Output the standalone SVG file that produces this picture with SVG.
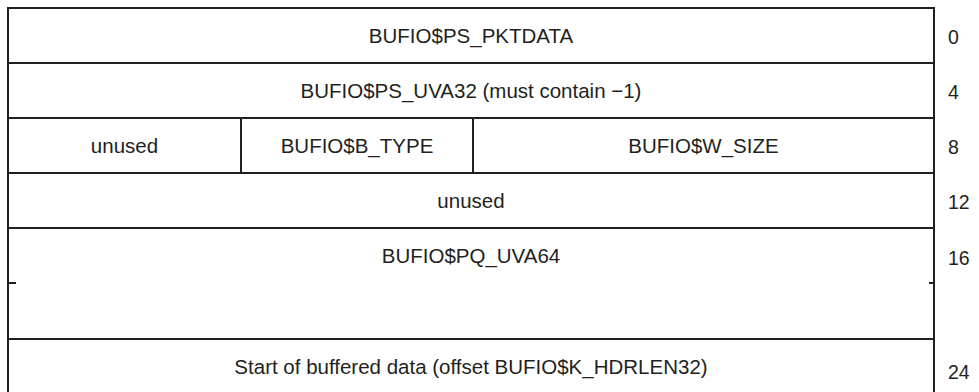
<svg xmlns="http://www.w3.org/2000/svg" width="979" height="392" viewBox="0 0 979 392">
<style>
.cell{fill:#fff;stroke:#231f20;stroke-width:2}
.ln{fill:none;stroke:#231f20;stroke-width:2}
.t{font-family:"Liberation Sans",Arial,sans-serif;font-size:20.5px;fill:#231f20;text-anchor:middle}
.n{font-family:"Liberation Sans",Arial,sans-serif;font-size:19.5px;fill:#231f20}
</style>
<rect width="979" height="392" fill="#fff"/>
<g id="pktdata">
<rect class="cell" x="8" y="8" width="926" height="55"/>
<text class="t" x="471" y="43">BUFIO$PS_PKTDATA</text>
</g>
<g id="uva32">
<rect class="cell" x="8" y="63" width="926" height="55"/>
<text class="t" x="471" y="98">BUFIO$PS_UVA32 (must contain −1)</text>
</g>
<g id="unused1">
<rect class="cell" x="8" y="118" width="233" height="55"/>
<text class="t" x="124.5" y="153">unused</text>
</g>
<g id="btype">
<rect class="cell" x="241" y="118" width="232" height="55"/>
<text class="t" x="357" y="153">BUFIO$B_TYPE</text>
</g>
<g id="wsize">
<rect class="cell" x="473" y="118" width="461" height="55"/>
<text class="t" x="703.5" y="153">BUFIO$W_SIZE</text>
</g>
<g id="unused2">
<rect class="cell" x="8" y="173" width="926" height="55"/>
<text class="t" x="471" y="208">unused</text>
</g>
<g id="uva64">
<rect class="cell" x="8" y="228" width="926" height="111"/>
<path class="ln" d="M8 283H16M929 283H934"/>
<text class="t" x="471" y="263">BUFIO$PQ_UVA64</text>
</g>
<g id="data">
<path class="ln" d="M8 392V339H934V392"/>
<text class="t" x="471" y="374">Start of buffered data (offset BUFIO$K_HDRLEN32)</text>
</g>
<g id="offsets">
<text class="n" x="948" y="44">0</text>
<text class="n" x="948" y="99">4</text>
<text class="n" x="948" y="154">8</text>
<text class="n" x="948" y="209">12</text>
<text class="n" x="948" y="265">16</text>
<text class="n" x="948" y="379">24</text>
</g>
<g id="connectors"/>
</svg>
